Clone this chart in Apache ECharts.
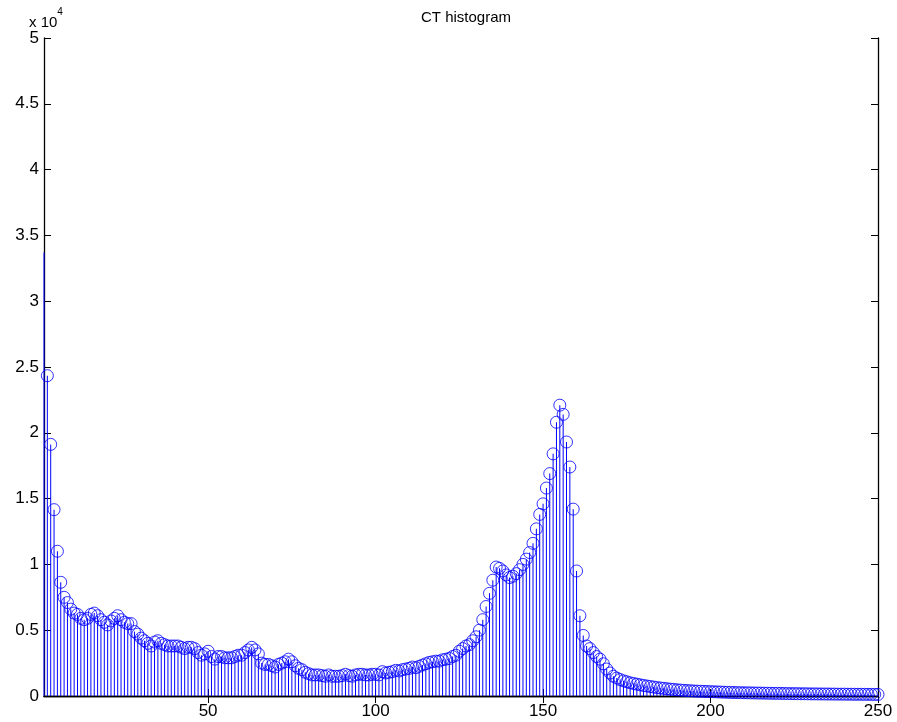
<!DOCTYPE html>
<html>
<head>
<meta charset="utf-8">
<title>CT histogram</title>
<script src="https://cdn.jsdelivr.net/npm/echarts@6/dist/echarts.min.js"></script>
<style>
    html, body { margin: 0; padding: 0; background: #fff; }
    #chart { width: 897px; height: 722px; }
</style>
</head>
<body>
<div id="chart"></div>
<script>
// histogram counts, bin 1 .. 250
var countsLow = [33700, 24340, 19120, 14160, 11000, 8640, 7500, 7100, 6600, 6300,
    6200, 5900, 5800, 5900, 6200, 6300, 6100, 5800, 5600, 5400,
    5700, 5900, 6100, 5800, 5600, 5500, 5500, 4900, 4700, 4400,
    4200, 4000, 3800, 4100, 4200, 4000, 3900, 3800, 3800, 3800,
    3800, 3700, 3600, 3700, 3700, 3600, 3300, 3100, 3200, 3400,
    3000, 2800, 3000, 3000, 2900, 2900, 2900, 3000, 3100, 3100];
var countsMid = [3300, 3500, 3700, 3500, 3200, 2500, 2400, 2400, 2300, 2200,
    2400, 2500, 2600, 2800, 2600, 2300, 2100, 2000, 1800, 1700,
    1600, 1600, 1600, 1550, 1500, 1600, 1500, 1500, 1500, 1550,
    1650, 1550, 1500, 1600, 1650, 1650, 1600, 1600, 1650, 1650,
    1600, 1850, 1750, 1800, 1850, 1950, 1900, 2000, 2050, 2100,
    2200, 2150, 2250, 2350, 2450, 2550, 2600, 2650, 2650, 2750,
    2800, 2850, 3000, 3100, 3400, 3600, 3800, 3900, 4200, 4500];
var countsPeak = [5000, 5800, 6800, 7800, 8800, 9800, 9700, 9500, 9200, 9000,
    9100, 9300, 9600, 10000, 10400, 10900, 11600, 12700, 13800, 14600,
    15800, 16900, 18400, 20800, 22100, 21400, 19300, 17400, 14200, 9500,
    6100, 4600, 3800, 3600, 3300, 3000, 2800, 2450, 2050, 1750];
var countsTail = [1500, 1360, 1250, 1150, 1080, 1000, 950, 900, 850, 800,
    760, 720, 680, 640, 610, 580, 550, 520, 500, 470,
    450, 430, 410, 400, 380, 370, 360, 350, 340, 330,
    320, 310, 300, 290, 280, 270, 265, 260, 250, 245,
    240, 235, 230, 225, 220, 215, 210, 205, 200, 200,
    195, 190, 185, 180, 180, 175, 170, 170, 165, 160,
    160, 155, 155, 150, 150, 145, 145, 140, 140, 140,
    135, 135, 130, 130, 130, 125, 125, 120, 120, 120];

var xTicks = [50, 100, 150, 200, 250];
var yMax = 50000;
var yStep = 5000;

var counts = countsLow.concat(countsMid, countsPeak, countsTail);
var stems = counts.map(function (c, i) { return [i + 1, c]; });
// bin 1 sits on the left frame, its marker is not visible in the original
var marks = stems.slice(1);

var chart = echarts.init(document.getElementById('chart'));
var font = '"Liberation Sans", Arial, Helvetica, sans-serif';

chart.setOption({
    animation: false,
    backgroundColor: '#fff',
    title: {
        text: 'CT histogram',
        left: 461,
        top: 5,
        textAlign: 'center',
        textStyle: { fontFamily: font, fontSize: 15, fontWeight: 'normal', color: '#000' }
    },
    graphic: [{
        type: 'text',
        left: 29,
        top: 7,
        style: {
            text: '{a|x 10}{b|4}',
            rich: {
                a: { fontFamily: font, fontSize: 15, fill: '#000', padding: [8, 0, 0, 0] },
                b: { fontFamily: font, fontSize: 10, fill: '#000', verticalAlign: 'top' }
            }
        }
    }],
    grid: { left: 44, top: 38, right: 19, bottom: 26, containLabel: false },
    xAxis: [{
        type: 'value',
        min: 1,
        max: 250,
        axisLine: { lineStyle: { color: '#000', width: 1.3 } },
        axisTick: { inside: true, length: 7, customValues: xTicks, lineStyle: { color: '#000' } },
        axisLabel: { customValues: xTicks, color: '#000', fontFamily: font, fontSize: 17, margin: 7 },
        splitLine: { show: false }
    }, {
        type: 'value',
        position: 'top',
        min: 1,
        max: 250,
        axisLine: { lineStyle: { color: '#000', width: 1.3 } },
        axisTick: { inside: true, length: 7, customValues: xTicks, lineStyle: { color: '#000' } },
        axisLabel: { show: false },
        splitLine: { show: false }
    }],
    yAxis: [{
        type: 'value',
        min: 0,
        max: yMax,
        interval: yStep,
        axisLine: { show: true, lineStyle: { color: '#000', width: 1.3 } },
        axisTick: { show: true, inside: true, length: 7, lineStyle: { color: '#000' } },
        axisLabel: {
            color: '#000', fontFamily: font, fontSize: 17, margin: 5,
            formatter: function (v) { return String(v / 10000); }
        },
        splitLine: { show: false }
    }, {
        type: 'value',
        position: 'right',
        min: 0,
        max: yMax,
        interval: yStep,
        axisLine: { show: true, lineStyle: { color: '#000', width: 1.3 } },
        axisTick: { show: true, inside: true, length: 7, lineStyle: { color: '#000' } },
        axisLabel: { show: false },
        splitLine: { show: false }
    }],
    series: [{
        name: 'stems',
        type: 'bar',
        data: stems,
        barWidth: 1,
        itemStyle: { color: '#0000ff' },
        clip: true
    }, {
        name: 'markers',
        type: 'scatter',
        data: marks,
        symbol: 'circle',
        symbolSize: 12,
        clip: false,
        itemStyle: { color: 'rgba(0,0,0,0)', borderColor: '#0000ff', borderWidth: 1 }
    }]
});
</script>
</body>
</html>
